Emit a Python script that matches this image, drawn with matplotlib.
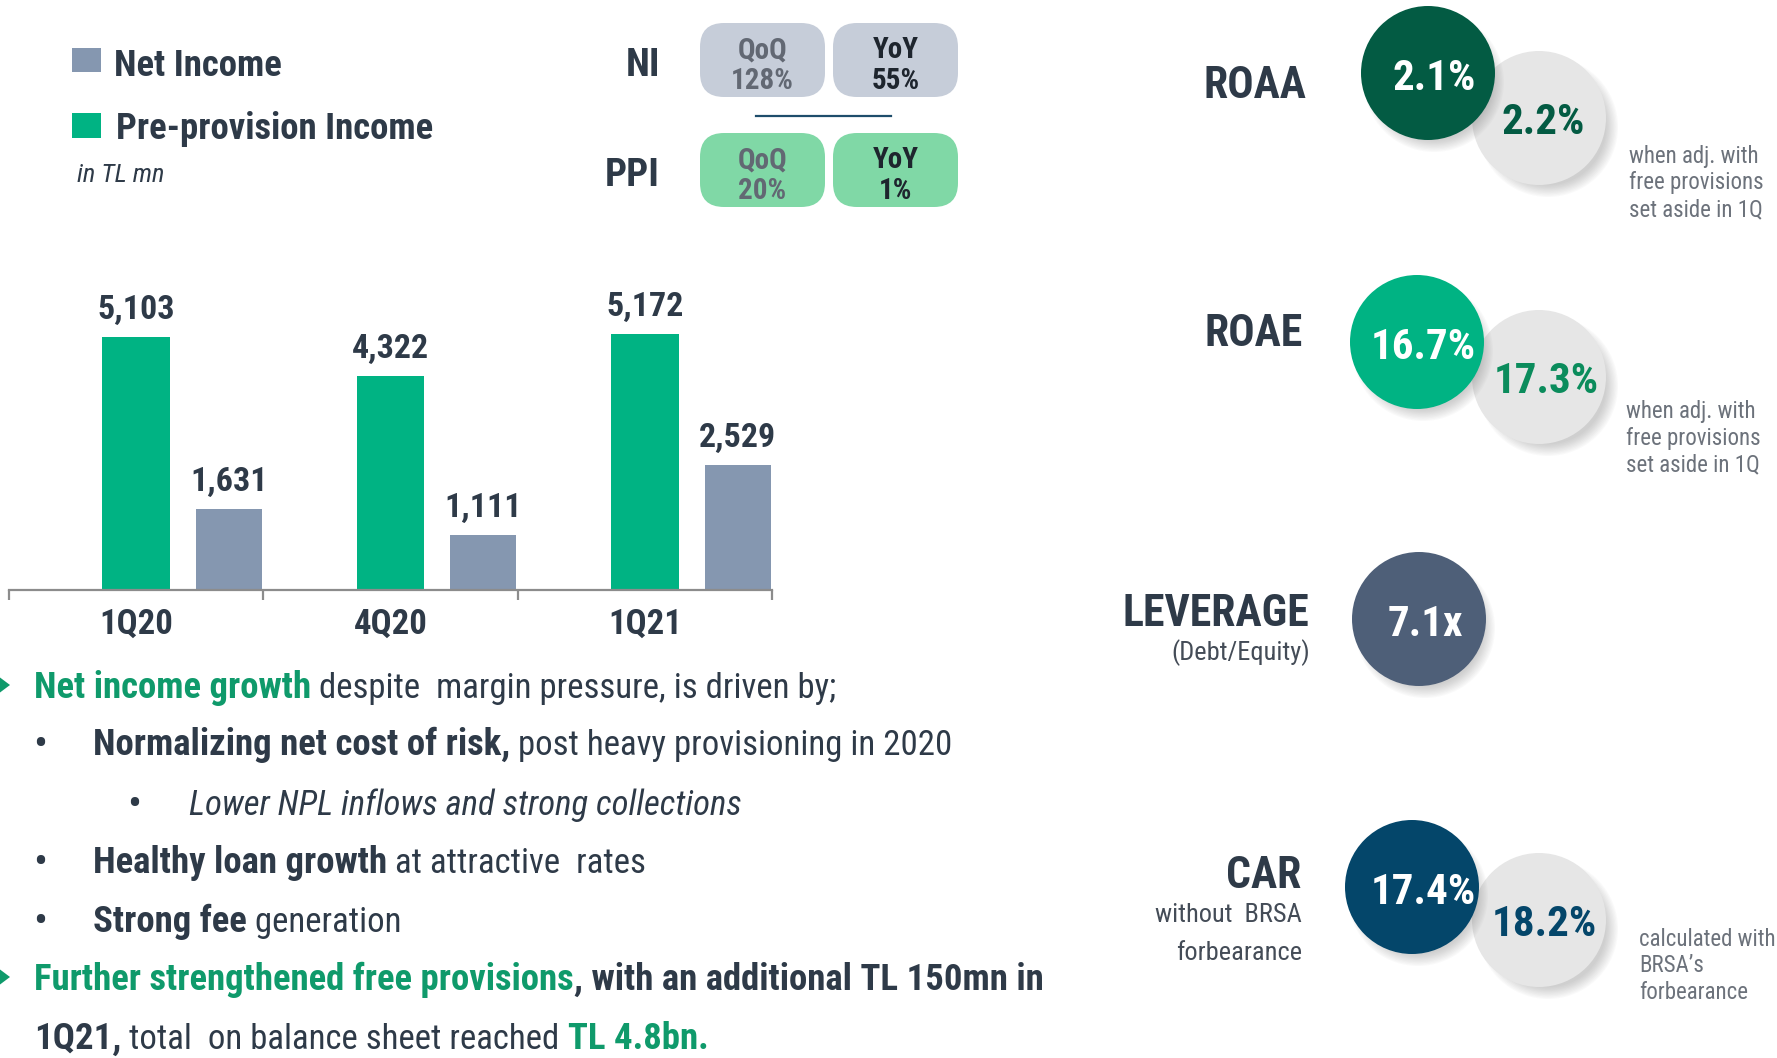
import matplotlib.pyplot as plt
from matplotlib.patches import Circle, FancyBboxPatch, Polygon, Rectangle

plt.rcParams['font.family'] = ['Roboto Condensed', 'Liberation Sans', 'DejaVu Sans']

# ---- data ----
quarters = ['1Q20', '4Q20', '1Q21']
ppi = [5103, 4322, 5172]
net_income = [1631, 1111, 2529]

growth_rows = ['NI', 'PPI']
growth_qoq = ['128%', '20%']
growth_yoy = ['55%', '1%']

ratio_names = ['ROAA', 'ROAE', 'LEVERAGE', 'CAR']
ratio_subs = [[], [], ['(Debt/Equity)'], ['without  BRSA', 'forbearance']]
ratio_main = ['2.1%', '16.7%', '7.1x', '17.4%']
ratio_adj = ['2.2%', '17.3%', None, '18.2%']
ratio_notes = [['when adj. with', 'free provisions', 'set aside in 1Q'],
               ['when adj. with', 'free provisions', 'set aside in 1Q'],
               [],
               ['calculated with', 'BRSA\u2019s', 'forbearance']]

# (text, colour key, weight, style) runs for each line of the commentary
comment_lines = [
    ('arrow', [('Net income growth', 'g', 'bold', 'normal'),
               (' despite  margin pressure, is driven by;', 'd', 'normal', 'normal')]),
    ('bullet', [('Normalizing net cost of risk,', 'd', 'bold', 'normal'),
                (' post heavy provisioning in 2020', 'd', 'normal', 'normal')]),
    ('sub', [('Lower NPL inflows and strong collections', 'd', 'normal', 'italic')]),
    ('bullet', [('Healthy loan growth', 'd', 'bold', 'normal'),
                (' at attractive  rates', 'd', 'normal', 'normal')]),
    ('bullet', [('Strong fee', 'd', 'bold', 'normal'),
                (' generation', 'd', 'normal', 'normal')]),
    ('arrow', [('Further strengthened free provisions', 'g', 'bold', 'normal'),
               (', with an additional TL 150mn in', 'd', 'bold', 'normal')]),
    ('none', [('1Q21,', 'd', 'bold', 'normal'),
              (' total  on balance sheet reached ', 'd', 'normal', 'normal'),
              ('TL 4.8bn.', 'g', 'bold', 'normal')]),
]

# ---- colours ----
DARK = '#2E3A48'
GREEN = '#00B383'
GREY_BAR = '#8597B0'
GREEN_TXT = '#0F9A6B'
NOTE = '#6C727B'
circle_cols = ['#035B43', '#00B383', '#4E5F78', '#04466A']
adj_cols = ['#035B43', '#0B8C5C', None, '#04466A']
run_cols = {'d': DARK, 'g': GREEN_TXT}

W, H = 1777, 1058
fig = plt.figure(figsize=(W / 100, H / 100), dpi=100)
ax0 = fig.add_axes([0, 0, 1, 1])
ax0.set_xlim(0, W)
ax0.set_ylim(H, 0)
ax0.axis('off')

# ---- bar chart ----
ax = fig.add_axes([9 / W, (H - 590) / H, (772 - 9) / W, 330 / H])
ax.set_facecolor('none')
xs = list(range(len(quarters)))
ax.bar(xs, ppi, width=0.265, color=GREEN)
ax.bar([x + 0.365 for x in xs], net_income, width=0.26, color=GREY_BAR)
for x, v in zip(xs, ppi):
    ax.annotate(f'{v:,}', (x, v), xytext=(0, 13), textcoords='offset points',
                ha='center', va='baseline', fontsize=24.5, fontweight='bold', color=DARK)
for x, v in zip(xs, net_income):
    ax.annotate(f'{v:,}', (x + 0.365, v), xytext=(0, 13), textcoords='offset points',
                ha='center', va='baseline', fontsize=24.5, fontweight='bold', color=DARK)
ax.set_xlim(-0.5, 2.5)
ax.set_ylim(0, 6667)
ax.set_yticks([])
ax.set_xticks(xs)
ax.set_xticklabels(quarters, fontsize=25, fontweight='bold', color=DARK)
ax.set_xticks([-0.5, 0.5, 1.5, 2.5], minor=True)
ax.tick_params(axis='x', which='major', length=0, pad=13)
ax.tick_params(axis='x', which='minor', length=7, width=1.6, color='#8C8C8C', direction='out')
for s in ['top', 'left', 'right']:
    ax.spines[s].set_visible(False)
ax.spines['bottom'].set_color('#8C8C8C')
ax.spines['bottom'].set_linewidth(1.6)

# ---- legend ----
ax0.add_patch(Rectangle((72, 48), 29, 24, color=GREY_BAR, lw=0))
ax0.add_patch(Rectangle((72, 113), 29, 25, color=GREEN, lw=0))
ax0.text(114, 62, 'Net Income', fontsize=26.5, fontweight='bold', color=DARK, va='center_baseline')
ax0.text(116, 125, 'Pre-provision Income', fontsize=26.5, fontweight='bold', color=DARK, va='center_baseline')
ax0.text(77, 172, 'in TL mn', fontsize=19, style='italic', color=DARK, va='center_baseline')

# ---- growth pills ----
pill_tops = [23, 133]
pill_cols = ['#C6CDD9', '#80D8A6']
for i, row in enumerate(growth_rows):
    top = pill_tops[i]
    ax0.text(660, top + 38, row, fontsize=28, fontweight='bold', color=DARK,
             ha='right', va='center_baseline')
    for j, (head, val, tc) in enumerate([('QoQ', growth_qoq[i], '#626873'),
                                         ('YoY', growth_yoy[i], '#1E252E')]):
        x0 = 700 + j * 133
        ax0.add_patch(FancyBboxPatch((x0, top), 125, 74,
                                     boxstyle='round,pad=0,rounding_size=24',
                                     fc=pill_cols[i], ec='none'))
        ax0.text(x0 + 62.5, top + 24, head, fontsize=21, fontweight='bold', color=tc,
                 ha='center', va='center_baseline')
        ax0.text(x0 + 62.5, top + 55, val, fontsize=21, fontweight='bold', color=tc,
                 ha='center', va='center_baseline')
ax0.plot([756, 891], [116, 116], color='#1E4D6B', lw=1.6)

# ---- ratio circles ----
label_pos = [(1306, 82), (1303, 329), (1309, 609), (1301, 872)]
main_c = [(1428, 73), (1417, 342), (1419, 619), (1412, 887)]
main_dx = [6, 6, 6, 11]
adj_c = [(1539, 118), (1539, 377), None, (1539, 920)]
adj_dx = [4, 7, 0, 5]
note_pos = [(1629, 154), (1626, 409), None, (1639, 937)]
R = 67


def shadow(cx, cy, dx, dy):
    for k in range(10):
        ax0.add_patch(Circle((cx + dx, cy + dy), R + 3 - k * 1.3, color='#6E6E6E',
                             alpha=0.035, lw=0))


for i, name in enumerate(ratio_names):
    lx, ly = label_pos[i]
    ax0.text(lx, ly, name, fontsize=31.5, fontweight='bold', color=DARK,
             ha='right', va='center_baseline')
    for k, sub in enumerate(ratio_subs[i]):
        ax0.text(lx + 1, ly + 41 + k * 38, sub, fontsize=19, color='#444C57',
                 ha='right', va='center_baseline')
    if adj_c[i] is not None:
        cxa, cya = adj_c[i]
        shadow(cxa, cya, 9, 9)
        ax0.add_patch(Circle((cxa, cya), R, fc='#E6E6E6', ec='none'))
        ax0.text(cxa + adj_dx[i], cya, ratio_adj[i], fontsize=31, fontweight='bold',
                 color=adj_cols[i], ha='center', va='center_baseline')
        nx, ny = note_pos[i]
        for k, line in enumerate(ratio_notes[i]):
            ax0.text(nx, ny + k * 26.5, line, fontsize=16.5, color=NOTE,
                     ha='left', va='center_baseline')
    cx, cy = main_c[i]
    shadow(cx, cy, 6, 9)
    ax0.add_patch(Circle((cx, cy), R, fc=circle_cols[i], ec='none'))
    ax0.text(cx + main_dx[i], cy + 1, ratio_main[i], fontsize=31, fontweight='bold',
             color='white', ha='center', va='center_baseline')

# ---- commentary ----
renderer = fig.canvas.get_renderer()


def width_of(s, **kw):
    t = ax0.text(0, 0, '|' + s + '|', **kw)
    w = t.get_window_extent(renderer).width
    t.remove()
    t = ax0.text(0, 0, '||', **kw)
    w -= t.get_window_extent(renderer).width
    t.remove()
    return w


sizes = {'bold': 26.5, 'normal': 25}
baselines = [698, 755, 815, 873, 932, 990, 1049]
for (kind, runs), yb in zip(comment_lines, baselines):
    x = 34
    if kind == 'arrow':
        ax0.add_patch(Polygon([(-2, yb - 22), (10, yb - 13), (-2, yb - 4)],
                              closed=True, color=GREEN_TXT, lw=0))
    elif kind == 'bullet':
        ax0.text(33, yb + 2, '\u2022', fontsize=30, color=DARK, va='baseline')
        x = 93
    elif kind == 'sub':
        ax0.text(127, yb + 2, '\u2022', fontsize=30, color=DARK, va='baseline')
        x = 189
    for txt, ck, wt, st in runs:
        kw = dict(fontsize=sizes[wt], fontweight=wt, style=st, color=run_cols[ck])
        ax0.text(x, yb, txt, va='baseline', ha='left', **kw)
        x += width_of(txt, **kw)

fig.savefig('out.png', dpi=100)
